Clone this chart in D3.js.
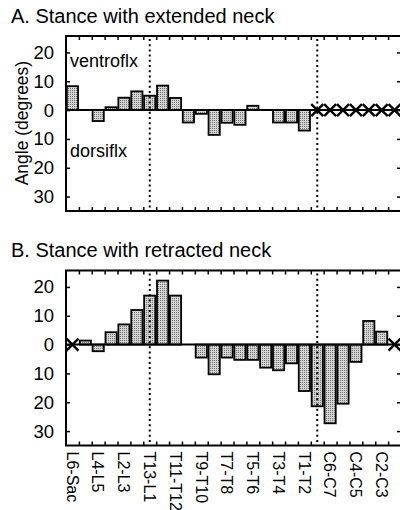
<!DOCTYPE html>
<html>
<head>
<meta charset="utf-8">
<script src="https://cdn.jsdelivr.net/npm/d3@7"></script>
<style>
  html, body { margin: 0; padding: 0; background: #fff; }
  svg { display: block; font-family: "Liberation Sans", Arial, Helvetica, sans-serif; }
</style>
</head>
<body>
<svg id="chart" width="400" height="510"></svg>
<script>
// ---- data ----
const categories = ["L6-Sac","L5-L6","L4-L5","L3-L4","L2-L3","L1-L2","T13-L1","T12-T13","T11-T12","T10-T11",
  "T9-T10","T8-T9","T7-T8","T6-T7","T5-T6","T4-T5","T3-T4","T2-T3","T1-T2","C7-T1",
  "C6-C7","C5-C6","C4-C5","C3-C4","C2-C3","C1-C2"];
// positive = ventroflexion, negative = dorsiflexion, null = no data (X)
const extendedNeck = [8.3, 0, -3.8, 1, 4.3, 6.5, 5, 8.5, 4.2, -4.3,
  -1.3, -8.6, -4.4, -5.1, 1.5, 0, -4.3, -4.3, -7.1, null,
  null, null, null, null, null, null];
const retractedNeck = [null, 1.4, -2.3, 4.3, 7, 12, 17, 22.2, 17, 0,
  -4.5, -10.3, -4.5, -5.3, -5.3, -8, -8.9, -6.5, -16.1, -21.4,
  -27.3, -20.5, -6, 8.2, 4.5, null];
const panelTitles = ["A. Stance with extended neck", "B. Stance with retracted neck"];
const yTickValues = [20, 10, 0, -10, -20, -30];
const yTickLabels = ["20", "10", "0", "10", "20", "30"];
const xLabelCategories = ["L6-Sac","L4-L5","L2-L3","T13-L1","T11-T12","T9-T10","T7-T8","T5-T6","T3-T4","T1-T2","C6-C7","C4-C5","C2-C3"];
const dividerCategories = ["T13-L1", "C7-T1"];
const yAxisTitle = "Angle (degrees)";
const regionLabels = ["ventroflx", "dorsiflx"];

// ---- layout ----
const svg = d3.select("#chart");
const left = 66, right = 401, plotH = 175;
const panelTops = [36, 270.5];
const yDomain = [-35, 25.7];

const defs = svg.append("defs");
const pat = defs.append("pattern").attr("id", "stipple").attr("patternUnits", "userSpaceOnUse")
  .attr("width", 2).attr("height", 2);
pat.append("rect").attr("width", 2).attr("height", 2).attr("fill", "#d4d4d4");
pat.append("rect").attr("width", 1).attr("height", 1).attr("fill", "#707070");

const xBand = d3.scaleBand().domain(categories).range([left, right]).paddingInner(0.13).paddingOuter(0.065);
const xEdge = d3.scaleLinear().domain([0, categories.length]).range([left, right]);
const edgeTicks = d3.range(1, categories.length);

const datasets = [extendedNeck, retractedNeck];

datasets.forEach((vals, pi) => {
  const top = panelTops[pi];
  const y = d3.scaleLinear().domain(yDomain).range([top + plotH, top]);
  const g = svg.append("g");

  // title
  g.append("text").attr("x", 11).attr("y", top - 13.5)
    .attr("font-size", 20).attr("fill", "#000").text(panelTitles[pi]);

  // bars
  const rows = categories.map((c, i) => ({ c, v: vals[i] }));
  g.selectAll("rect.bar").data(rows.filter(d => d.v !== null && d.v !== 0)).join("rect")
    .attr("class", "bar")
    .attr("x", d => xBand(d.c))
    .attr("width", xBand.bandwidth())
    .attr("y", d => y(Math.max(0, d.v)))
    .attr("height", d => Math.abs(y(d.v) - y(0)))
    .attr("fill", "url(#stipple)")
    .attr("stroke", "#000").attr("stroke-width", 1.8);

  // zero line
  g.append("line").attr("x1", left).attr("x2", right).attr("y1", y(0)).attr("y2", y(0))
    .attr("stroke", "#000").attr("stroke-width", 2);

  // missing markers (X)
  const hw = 6, hh = 6;
  g.selectAll("path.miss").data(rows.filter(d => d.v === null)).join("path")
    .attr("class", "miss")
    .attr("d", d => {
      const cx = xBand(d.c) + xBand.bandwidth() / 2, cy = y(0);
      return `M${cx - hw},${cy - hh}L${cx + hw},${cy + hh}M${cx + hw},${cy - hh}L${cx - hw},${cy + hh}`;
    })
    .attr("stroke", "#000").attr("stroke-width", 2.4).attr("fill", "none");

  // dotted dividers
  g.selectAll("line.div").data(dividerCategories).join("line")
    .attr("class", "div")
    .attr("x1", d => xBand(d) + xBand.bandwidth() / 2)
    .attr("x2", d => xBand(d) + xBand.bandwidth() / 2)
    .attr("y1", top + 3).attr("y2", top + plotH)
    .attr("stroke", "#000").attr("stroke-width", 2).attr("stroke-dasharray", "2,3.2");

  // y axis (left) with labels
  const yAxisL = d3.axisLeft(y).tickValues(yTickValues).tickSize(-4).tickPadding(12)
    .tickFormat((d, i) => yTickLabels[i]);
  const gl = g.append("g").attr("transform", `translate(${left},0)`).call(yAxisL);
  gl.select(".domain").remove();
  gl.selectAll(".tick line").attr("stroke-width", 1.5);
  gl.selectAll(".tick text").attr("font-size", 18.5).attr("font-family", "Liberation Sans, Arial, sans-serif").attr("fill", "#000");

  // y axis (right) ticks only
  const gr = g.append("g").attr("transform", `translate(${right},0)`)
    .call(d3.axisRight(y).tickValues(yTickValues).tickSize(-4).tickFormat(""));
  gr.select(".domain").remove();
  gr.selectAll(".tick line").attr("stroke-width", 1.5);

  // x ticks top and bottom
  const gt = g.append("g").attr("transform", `translate(0,${top})`)
    .call(d3.axisTop(xEdge).tickValues(edgeTicks).tickSize(-4).tickFormat(""));
  gt.select(".domain").remove();
  gt.selectAll(".tick line").attr("stroke-width", 1.5);
  const gb = g.append("g").attr("transform", `translate(0,${top + plotH})`)
    .call(d3.axisBottom(xEdge).tickValues(edgeTicks).tickSize(-4).tickFormat(""));
  gb.select(".domain").remove();
  gb.selectAll(".tick line").attr("stroke-width", 1.5);

  // frame
  g.append("rect").attr("x", left).attr("y", top).attr("width", right - left).attr("height", plotH)
    .attr("fill", "none").attr("stroke", "#000").attr("stroke-width", 2);

  if (pi === 0) {
    g.append("text").attr("x", 70).attr("y", 66.5).attr("font-size", 18).attr("fill", "#000").text(regionLabels[0]);
    g.append("text").attr("x", 70).attr("y", 157.3).attr("font-size", 18).attr("fill", "#000").text(regionLabels[1]);
    g.append("text")
      .attr("transform", `translate(${28},${y(-4.5)}) rotate(-90)`)
      .attr("text-anchor", "middle").attr("font-size", 17.5).attr("fill", "#000").text(yAxisTitle);
  }

  if (pi === 1) {
    g.selectAll("text.xl").data(xLabelCategories).join("text")
      .attr("class", "xl")
      .attr("transform", d => `translate(${xBand(d) + xBand.bandwidth() / 2},${top + plotH + 6}) rotate(90)`)
      .attr("dy", "0.36em")
      .attr("text-anchor", "start").attr("font-size", 16).attr("fill", "#000").text(d => d);
  }
});
</script>
</body>
</html>
